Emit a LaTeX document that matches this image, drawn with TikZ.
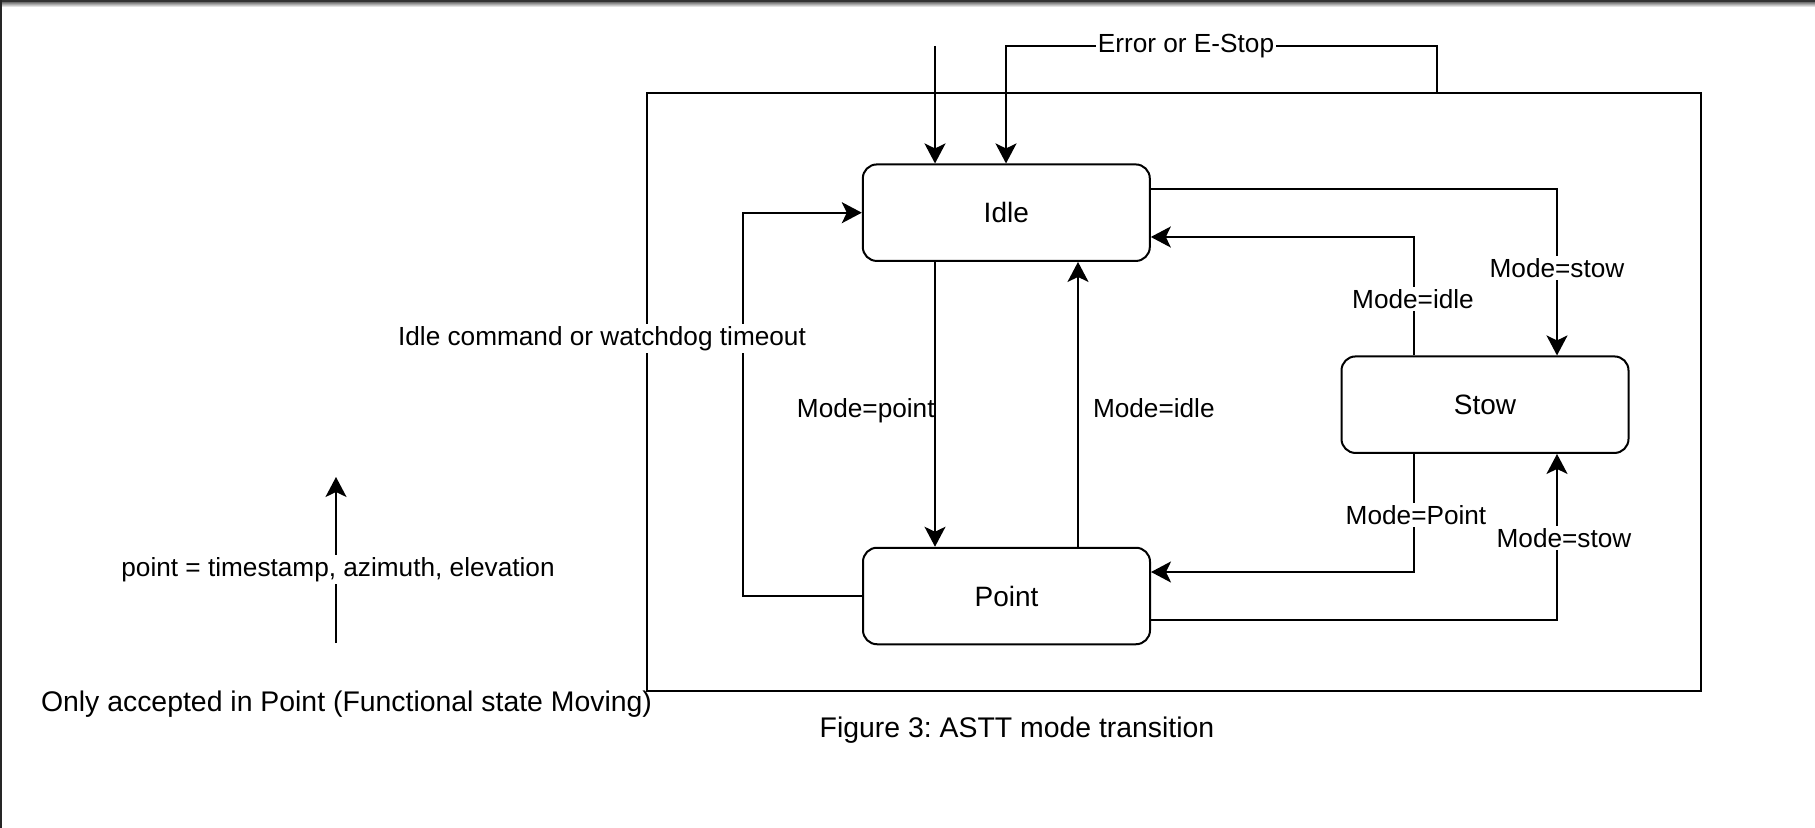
\documentclass[tikz,border=0pt]{standalone}
\usepackage{fontspec}
\setmainfont{Liberation Sans}
\usetikzlibrary{arrows.meta}
\frenchspacing
\begin{document}
\begin{tikzpicture}[x=0.5pt,y=-0.5pt,
  state/.style={draw, line width=1pt, rounded corners=7pt, minimum width=143.5pt, minimum height=48.25pt, font=\fontsize{14}{16}\selectfont, inner sep=0pt},
  conn/.style={line width=1pt, -{Stealth[length=10pt,width=10.5pt,inset=2.5pt]}},
  elabel/.style={fill=white, inner sep=1pt, font=\fontsize{13.1}{15}\selectfont},
  nlabel/.style={inner sep=0pt, font=\fontsize{13.1}{15}\selectfont},
  caption/.style={inner sep=0pt, font=\fontsize{14.2}{17}\selectfont}]
\useasboundingbox (0,0) rectangle (1815,828);
\fill[white] (0,0) rectangle (1815,828);
% page edges
\fill[black!80] (0,0) rectangle (1815,3);
\shade[top color=black!45, bottom color=white] (0,3) rectangle (1815,7);
\fill[black!85] (0,0) rectangle (1.6,828);

% frame
\node[draw, line width=1pt, minimum width=527pt, minimum height=299pt, inner sep=0pt] (frame) at (1174,392) {};

% states
\node[state] (idle) at (1006.3,212.7) {Idle};
\node[state] (point) at (1006.5,596) {Point};
\node[state] (stow) at (1485,404.7) {Stow};

% coordinates
\coordinate (s1) at (935,46);
\coordinate (err) at (1437,46);

% initial arrow
\draw[conn] (s1) -- (s1 |- idle.north);
% error or e-stop
\draw[conn] (err |- frame.north) -- (err) -- (1006,46) -- (1006,0 |- idle.north);
\node[elabel] at (1186,46) {Error or E-Stop};

% Idle -> Stow
\draw[conn] (idle.east |- 0,189) -- (1557,189) -- (1557,0 |- stow.north);
\node[elabel] at (1557,268) {Mode=stow};
% Stow -> Idle
\draw[conn] (1414,0 |- stow.north) -- (1414,237) -- (idle.east |- 0,237);
\node[elabel] at (1413,299) {Mode=idle};
% Stow -> Point
\draw[conn] (1414,0 |- stow.south) -- (1414,572) -- (point.east |- 0,572);
\node[elabel] at (1416,515) {Mode=Point};
% Point -> Stow
\draw[conn] (point.east |- 0,620) -- (1557,620) -- (1557,0 |- stow.south);
\node[elabel] at (1564,538) {Mode=stow};

% Idle -> Point
\draw[conn] (935,0 |- idle.south) -- (935,0 |- point.north);
\node[nlabel, anchor=east] at (935,410.5) {Mode=point};
% Point -> Idle
\draw[conn] (1078,0 |- point.north) -- (1078,0 |- idle.south);
\node[nlabel, anchor=west] at (1092.6,408) {Mode=idle};
% Point -> Idle loop
\draw[conn] (point.west) -- (743,0 |- point.west) -- (743,0 |- idle.west) -- (idle.west);
\node[elabel] at (602,338.5) {Idle command or watchdog timeout};

% left annotation
\coordinate (a1) at (336,643);
\coordinate (a2) at (336,477);
\draw[conn] (a1) -- (a2);
\node[elabel] at (338,569.5) {point = timestamp, azimuth, elevation};
\node[caption] at (346.5,704) {Only accepted in Point (Functional state Moving)};
\node[caption] at (1017,730) {Figure 3: ASTT mode transition};
\end{tikzpicture}
\end{document}
